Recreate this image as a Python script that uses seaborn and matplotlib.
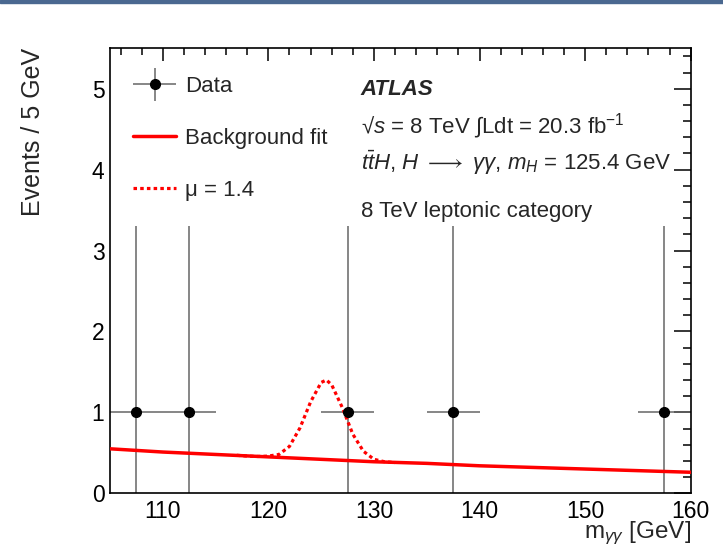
import seaborn as sns
import matplotlib.pyplot as plt
from matplotlib.patches import Rectangle
from matplotlib.legend_handler import HandlerErrorbar

# 数据
data_x = [107.5, 112.5, 127.5, 137.5, 157.5]
data_y = [1, 1, 1, 1, 1]
data_err_lo = [1, 1, 1, 1, 1]
data_err_hi = [2.3, 2.3, 2.3, 2.3, 2.3]
data_xerr = [2.5, 2.5, 2.5, 2.5, 2.5]

bkg_x = [105, 110, 115, 120, 125, 130, 135, 140, 145, 150, 155, 160]
bkg_y = [0.55, 0.51, 0.48, 0.45, 0.42, 0.39, 0.37, 0.34, 0.32, 0.30, 0.28, 0.26]

sig_x = [117, 118, 119, 120, 121, 122, 123, 124, 125, 125.5, 126, 127, 128, 129, 130, 131, 132]
sig_y = [0.47, 0.46, 0.455, 0.46, 0.48, 0.58, 0.81, 1.13, 1.37, 1.40, 1.34, 1.06, 0.73, 0.52, 0.42, 0.39, 0.38]

sns.set_style('white')
plt.rcParams['font.family'] = ['Liberation Sans', 'DejaVu Sans']
plt.rcParams['mathtext.fontset'] = 'custom'
plt.rcParams['mathtext.rm'] = 'Liberation Sans'
plt.rcParams['mathtext.it'] = 'Liberation Sans:italic'
plt.rcParams['mathtext.bf'] = 'Liberation Sans:bold'

fig = plt.figure(figsize=(7.23, 5.46), dpi=100)
ax = fig.add_axes([110 / 723, 1 - 493.3 / 546, 580.7 / 723, 445 / 546])

# 数据点
eb = ax.errorbar(data_x, data_y, xerr=data_xerr, yerr=[data_err_lo, data_err_hi],
                 fmt='o', color='black', ecolor='#666666', elinewidth=1.1,
                 markersize=7, capsize=0, zorder=2, label='Data')
eb.lines[0].set_zorder(5)

# 背景拟合和信号
sns.lineplot(x=bkg_x, y=bkg_y, color='red', lw=2.5, ax=ax, zorder=3, label='Background fit')
sns.lineplot(x=sig_x, y=sig_y, color='red', lw=2.3, ax=ax, zorder=4, label='\u03bc = 1.4')
ax.lines[-1].set_dashes((1.1, 1.0))

ax.set_xlim(105, 160)
ax.set_ylim(0, 5.5)
ax.set_xticks([110, 120, 130, 140, 150, 160])
ax.set_xticks(range(106, 160, 2), minor=True)
ax.set_yticks([0, 1, 2, 3, 4, 5])
ax.set_yticks([i * 0.2 for i in range(28)], minor=True)

ax.tick_params(which='both', direction='in', top=True, right=True, width=1.1, colors='black')
ax.tick_params(axis='y', which='major', length=12, labelsize=16.5, pad=4)
ax.tick_params(axis='y', which='minor', length=6)
ax.tick_params(axis='x', which='major', length=9.5, labelsize=16.5, pad=5)
ax.tick_params(axis='x', which='minor', length=5)
for s in ax.spines.values():
    s.set_linewidth(1.2)
    s.set_color('black')

ax.set_ylabel('Events / 5 GeV', fontsize=18, loc='top')
ax.yaxis.set_label_coords(-0.112, 1.0)
ax.set_xlabel(r'm$_{\gamma\gamma}$ [GeV]', fontsize=17.5, loc='right')
ax.xaxis.set_label_coords(1.0, -0.058)

# 图例
handles, labels = ax.get_legend_handles_labels()
order = [labels.index('Data'), labels.index('Background fit'), labels.index('\u03bc = 1.4')]
ax.legend([handles[i] for i in order], [labels[i] for i in order],
          loc='upper left', bbox_to_anchor=(133 / 723, 1 - 76 / 546),
          bbox_transform=fig.transFigure, frameon=False, fontsize=16,
          handlelength=1.95, handletextpad=0.4, labelspacing=1.4,
          borderpad=0, borderaxespad=0,
          handler_map={eb: HandlerErrorbar(xerr_size=0.97, yerr_size=0.74)})

tx = 0.432
ax.text(tx, 0.895, 'ATLAS', transform=ax.transAxes, fontsize=16,
        fontweight='bold', style='italic', va='baseline')
ax.text(tx, 0.810, '\u221a$s$ = 8 TeV \u222bLdt = 20.3 fb$^{-1}$',
        transform=ax.transAxes, fontsize=16, va='baseline')
ax.text(tx, 0.727, '$t\\bar{t}H$, $H\\ \\longrightarrow\\ \\gamma\\gamma$, $m_{H}$ = 125.4 GeV',
        transform=ax.transAxes, fontsize=16, va='baseline')
ax.text(tx, 0.621, '8 TeV leptonic category', transform=ax.transAxes,
        fontsize=16, va='baseline')

# 顶部的蓝色边线
fig.patches.append(Rectangle((0, 1 - 3 / 546), 1, 3 / 546, transform=fig.transFigure,
                             color='#4a6890', zorder=10))

fig.savefig('out.png', dpi=100)
